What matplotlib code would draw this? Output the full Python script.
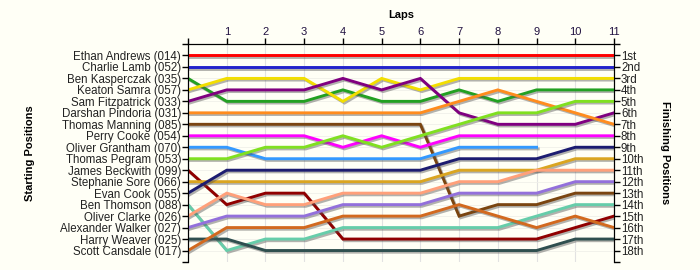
import numpy as np
import matplotlib
matplotlib.use('Agg')
import matplotlib.pyplot as plt
import matplotlib.patheffects as pe

plt.rcParams['font.family'] = ['Liberation Sans', 'DejaVu Sans']

drivers = ['Ethan Andrews (014)', 'Charlie Lamb (052)', 'Ben Kasperczak (035)',
           'Keaton Samra (057)', 'Sam Fitzpatrick (033)', 'Darshan Pindoria (031)',
           'Thomas Manning (085)', 'Perry Cooke (054)', 'Oliver Grantham (070)',
           'Thomas Pegram (053)', 'James Beckwith (099)', 'Stephanie Sore (066)',
           'Evan Cook (055)', 'Ben Thomson (088)', 'Oliver Clarke (026)',
           'Alexander Walker (027)', 'Harry Weaver (025)', 'Scott Cansdale (017)']
laps = list(range(12))
finish_labels = ['1st', '2nd', '3rd'] + [f'{i}th' for i in range(4, 19)]

# position after each lap (lap 0 = grid), None = retired
positions = [
    [1, 1, 1, 1, 1, 1, 1, 1, 1, 1, 1, 1],
    [2, 2, 2, 2, 2, 2, 2, 2, 2, 2, 2, 2],
    [3, 5, 5, 5, 4, 5, 5, 4, 5, 4, 4, 4],
    [4, 3, 3, 3, 5, 3, 4, 3, 3, 3, 3, 3],
    [5, 4, 4, 4, 3, 4, 3, 6, 7, 7, 7, 6],
    [6, 6, 6, 6, 6, 6, 6, 5, 4, 5, 6, 7],
    [7, 7, 7, 7, 7, 7, 7, 15, 14, 14, 13, 13],
    [8, 8, 8, 8, 9, 8, 9, 8, 8, 8, 8, 8],
    [9, 9, 10, 10, 10, 10, 10, 9, 9, 9, None, None],
    [10, 10, 9, 9, 8, 9, 8, 7, 6, 6, 5, 5],
    [11, 14, 13, 13, 17, 17, 17, 17, 17, 17, 16, 15],
    [12, 12, 12, 12, 12, 12, 12, 11, 11, 11, 10, 10],
    [13, 11, 11, 11, 11, 11, 11, 10, 10, 10, 9, 9],
    [14, 18, 17, 17, 16, 16, 16, 16, 16, 15, 14, 14],
    [15, 13, 14, 14, 13, 13, 13, 12, 12, 11, 11, 11],
    [16, 15, 15, 15, 14, 14, 14, 13, 13, 13, 12, 12],
    [17, 17, 18, 18, 18, 18, 18, 18, 18, 18, 17, 17],
    [18, 16, 16, 16, 15, 15, 15, 14, 15, 16, 15, 16],
]
colors = ['#FF0000', '#2222CC', '#22A022', '#F2DE00', '#800080', '#FF8C1E',
          '#7A4510', '#FF00FF', '#3399FF', '#80E020', '#900000', '#DAA520',
          '#1C1C70', '#66CDAA', '#FFA07A', '#9370DB', '#2F4F4F', '#D2691E']

bg = '#FFFFF6'
fig = plt.figure(figsize=(7, 2.7), dpi=100, facecolor=bg)
ax = fig.add_axes([188/700, 1-262/270, (614-188)/700, (262-44)/270], facecolor=bg)

shadow = [pe.SimpleLineShadow(offset=(1.2, -1.2), shadow_color='#555555', alpha=0.45), pe.Normal()]
for name, pos, c in zip(drivers, positions, colors):
    y = np.array([np.nan if p is None else p for p in pos], dtype=float)
    ax.plot(laps, y, color=c, lw=2.1, solid_joinstyle='miter', path_effects=shadow, zorder=3)

ax.set_xlim(0, 11)
ax.set_ylim(19, 0)
ax.xaxis.tick_top()
ax.set_xticks(laps)
ax.set_xticklabels([''] + [str(i) for i in laps[1:]], fontsize=8, color='#201040')
ax.set_yticks(range(20))
ax.set_yticklabels([''] + drivers + [''], fontsize=8.3, color='#222222')
ax.tick_params(axis='both', direction='out', length=4, width=1, pad=1)

ax2 = ax.twinx()
ax2.set_ylim(19, 0)
ax2.set_yticks(range(20))
ax2.set_yticklabels([''] + finish_labels + [''], fontsize=8.3, color='#222222')
ax2.tick_params(axis='y', direction='out', length=4, width=1, pad=1)

for a in (ax, ax2):
    a.spines['bottom'].set_visible(False)
ax.grid(True, axis='x', color='#E2E2E2', lw=0.8, zorder=0)
ax.grid(True, axis='y', color='#F0F0EA', lw=0.6, zorder=0)
ax.set_axisbelow(True)

fig.text(401/700, 1-15/270, 'Laps', ha='center', va='center', fontsize=8, fontweight='bold')
fig.text(30/700, 1-153/270, 'Starting Positions', ha='center', va='center',
         rotation=90, fontsize=8, fontweight='bold')
fig.text(665/700, 1-153/270, 'Finishing Positions', ha='center', va='center',
         rotation=270, fontsize=8, fontweight='bold')

fig.savefig('out.png', dpi=100, facecolor=bg)
